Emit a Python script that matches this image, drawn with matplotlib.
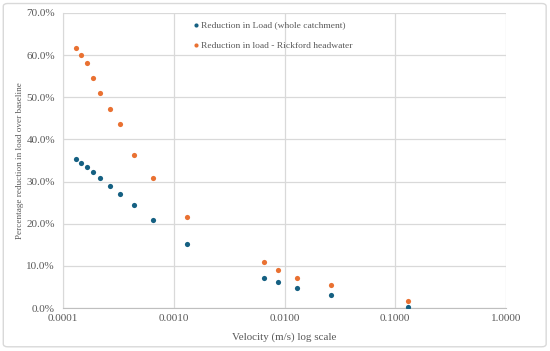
import numpy as np
import matplotlib
matplotlib.use("Agg")
import matplotlib.pyplot as plt
from matplotlib.patches import FancyBboxPatch
from matplotlib.ticker import FuncFormatter, FixedLocator

plt.rcParams['font.family'] = ['Liberation Serif', 'DejaVu Serif']

# velocity (m/s)
velocity = [1.30e-4, 1.45e-4, 1.64e-4, 1.86e-4, 2.17e-4, 2.62e-4, 3.26e-4,
            4.34e-4, 6.52e-4, 1.30e-3, 6.52e-3, 8.65e-3, 1.30e-2, 2.62e-2, 0.130]
# percentage reduction, whole catchment
whole = [35.3, 34.5, 33.4, 32.2, 30.9, 29.0, 27.0, 24.4, 20.9, 15.3,
         7.1, 6.1, 4.8, 3.0, 0.3]
# percentage reduction, Rickford headwater
rickford = [61.8, 60.0, 58.2, 54.5, 50.9, 47.1, 43.6, 36.3, 30.8, 21.7,
            10.8, 9.0, 7.2, 5.4, 1.7]

label_whole = "Reduction in Load (whole catchment)"
label_rick = "Reduction in load - Rickford headwater"

blue = "#156082"
orange = "#E97132"
text_col = "#595959"
grid_col = "#d9d9d9"

fig = plt.figure(figsize=(5.5, 3.51), dpi=100)
fig.patch.set_facecolor("white")

# outer chart border
border = FancyBboxPatch((0.006, 0.012), 0.987, 0.978, boxstyle="round,pad=0,rounding_size=0.008",
                        transform=fig.transFigure, fill=False, edgecolor="#d9d9d9", linewidth=1.0)
fig.patches.append(border)

ax = fig.add_axes([0.115, 0.1225, 0.805, 0.8405])
ax.scatter(velocity, whole, s=14, color=blue, label=label_whole, zorder=3, linewidths=0)
ax.scatter(velocity, rickford, s=14, color=orange, label=label_rick, zorder=3, linewidths=0)

ax.set_xscale("log")
ax.set_xlim(1e-4, 1.0)
ax.set_ylim(0, 70)
ax.xaxis.set_major_locator(FixedLocator([1e-4, 1e-3, 1e-2, 1e-1, 1.0]))
ax.xaxis.set_minor_locator(FixedLocator([]))
ax.xaxis.set_major_formatter(FuncFormatter(lambda v, p: f"{v:.4f}"))
ax.set_yticks(np.arange(0, 71, 10))
ax.yaxis.set_major_formatter(FuncFormatter(lambda v, p: f"{v:.1f}%"))

ax.grid(True, color=grid_col, linewidth=0.9)
ax.set_axisbelow(True)
for s in ["top", "right"]:
    ax.spines[s].set_visible(False)
ax.spines["left"].set_color(grid_col)
ax.spines["bottom"].set_color("#bfbfbf")
ax.tick_params(length=0, labelsize=8, labelcolor=text_col)
ax.tick_params(axis="x", pad=4)
ax.tick_params(axis="y", pad=6)

ax.set_xlabel("Velocity (m/s) log scale", fontsize=7.9, color=text_col)
ax.set_ylabel("Percentage reduction in load over baseline", fontsize=6.6, color=text_col)
ax.xaxis.set_label_coords(0.5, -0.082)
ax.yaxis.set_label_coords(-0.088, 0.5)

leg = ax.legend(loc="upper left", bbox_to_anchor=(0.269, 1.003), frameon=False,
                fontsize=6.8, handlelength=1.0, handletextpad=0.1, labelspacing=1.25,
                markerscale=0.8)
for t in leg.get_texts():
    t.set_color(text_col)

fig.savefig("out.png", dpi=100)
